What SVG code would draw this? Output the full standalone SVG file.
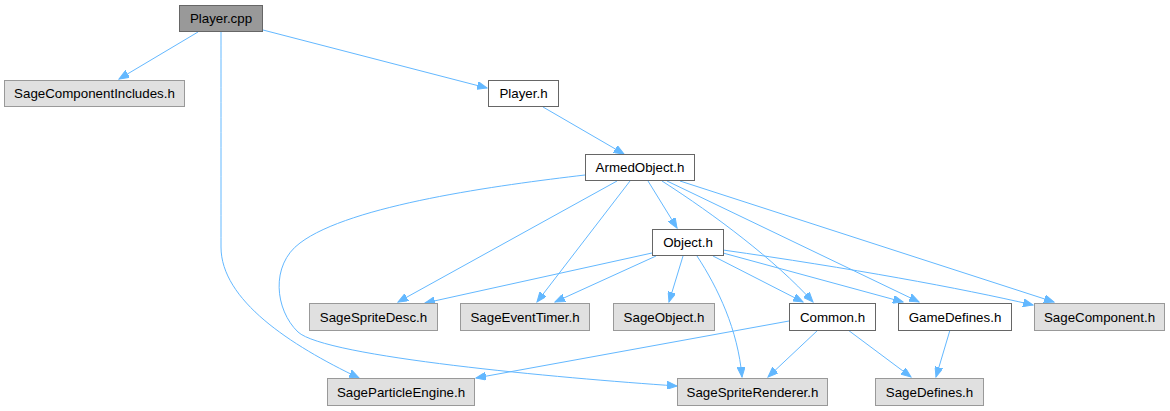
<svg xmlns="http://www.w3.org/2000/svg" width="1170" height="411" viewBox="0 0 1170 411">
<style>
.n rect{stroke-width:1}
.w rect{fill:#ffffff;stroke:#666666}
.g rect{fill:#e0e0e0;stroke:#999999}
.d rect{fill:#999999;stroke:#666666}
text{font-family:"Liberation Sans",Arial,sans-serif;font-size:13.33px;fill:#000000;text-anchor:middle}
.e path{fill:none;stroke:#63b8ff;stroke-width:1}
</style>
<defs>
<marker id="a" markerWidth="11" markerHeight="8" refX="10" refY="4" orient="auto" markerUnits="userSpaceOnUse">
<path d="M0,0 L10,4 L0,8 z" fill="#63b8ff" stroke="#63b8ff" stroke-width="1"/>
</marker>
</defs>
<rect width="1170" height="411" fill="#ffffff"/>
<g id="edges" class="e">
<path marker-end="url(#a)" d="M198,32 L119,79"/>
<path marker-end="url(#a)" d="M263,30 L487,88"/>
<path marker-end="url(#a)" d="M221,32 C221,100 221,200 221,247 C221,300 290,345 359,378"/>
<path marker-end="url(#a)" d="M543,107 L624,154"/>
<path marker-end="url(#a)" d="M648,181 L677,228"/>
<path marker-end="url(#a)" d="M617,181 L398,302"/>
<path marker-end="url(#a)" d="M630,181 L537,302"/>
<path marker-end="url(#a)" d="M585,175 C500,185 350,205 300,243 C270,265 275,310 298,332 C325,357 560,378 677,386"/>
<path marker-end="url(#a)" d="M662,181 C715,215 775,260 813,302"/>
<path marker-end="url(#a)" d="M667,181 L919,302"/>
<path marker-end="url(#a)" d="M680,181 L1054,302"/>
<path marker-end="url(#a)" d="M652,253 L425,303"/>
<path marker-end="url(#a)" d="M656,256 L555,302"/>
<path marker-end="url(#a)" d="M683,256 L669,302"/>
<path marker-end="url(#a)" d="M697,256 C718,288 738,330 742,377"/>
<path marker-end="url(#a)" d="M713,256 L803,302"/>
<path marker-end="url(#a)" d="M723,253 L903,302"/>
<path marker-end="url(#a)" d="M723,250 C850,268 960,288 1033,305"/>
<path marker-end="url(#a)" d="M789,321 L476,378"/>
<path marker-end="url(#a)" d="M818,330 L768,377"/>
<path marker-end="url(#a)" d="M848,330 L911,377"/>
<path marker-end="url(#a)" d="M950,330 L936,377"/>
</g>
<g id="node-playercpp" class="n d"><rect x="179.5" y="5.5" width="83" height="26"/><text x="221" y="23">Player.cpp</text></g>
<g id="node-sagecomponentincludes" class="n g"><rect x="4.5" y="80.5" width="180" height="26"/><text x="94.5" y="98">SageComponentIncludes.h</text></g>
<g id="node-playerh" class="n w"><rect x="488.5" y="80.5" width="70" height="26"/><text x="523.5" y="98">Player.h</text></g>
<g id="node-armedobject" class="n w"><rect x="585.5" y="154.5" width="109" height="26"/><text x="640" y="172">ArmedObject.h</text></g>
<g id="node-object" class="n w"><rect x="652.5" y="229.5" width="71" height="26"/><text x="688" y="247">Object.h</text></g>
<g id="node-spritedesc" class="n g"><rect x="309.5" y="303.5" width="128" height="27"/><text x="373.5" y="321.5">SageSpriteDesc.h</text></g>
<g id="node-eventtimer" class="n g"><rect x="460.5" y="303.5" width="129" height="27"/><text x="525" y="321.5">SageEventTimer.h</text></g>
<g id="node-sageobject" class="n g"><rect x="613.5" y="303.5" width="101" height="27"/><text x="664" y="321.5">SageObject.h</text></g>
<g id="node-common" class="n w"><rect x="789.5" y="303.5" width="86" height="27"/><text x="832.5" y="321.5">Common.h</text></g>
<g id="node-gamedefines" class="n w"><rect x="898.5" y="303.5" width="113" height="27"/><text x="955" y="321.5">GameDefines.h</text></g>
<g id="node-sagecomponent" class="n g"><rect x="1034.5" y="303.5" width="130" height="27"/><text x="1099.5" y="321.5">SageComponent.h</text></g>
<g id="node-particleengine" class="n g"><rect x="327.5" y="378.5" width="147" height="27"/><text x="401" y="396.5">SageParticleEngine.h</text></g>
<g id="node-spriterenderer" class="n g"><rect x="677.5" y="378.5" width="150" height="27"/><text x="752.5" y="396.5">SageSpriteRenderer.h</text></g>
<g id="node-sagedefines" class="n g"><rect x="875.5" y="378.5" width="108" height="27"/><text x="929.5" y="396.5">SageDefines.h</text></g>
</svg>
